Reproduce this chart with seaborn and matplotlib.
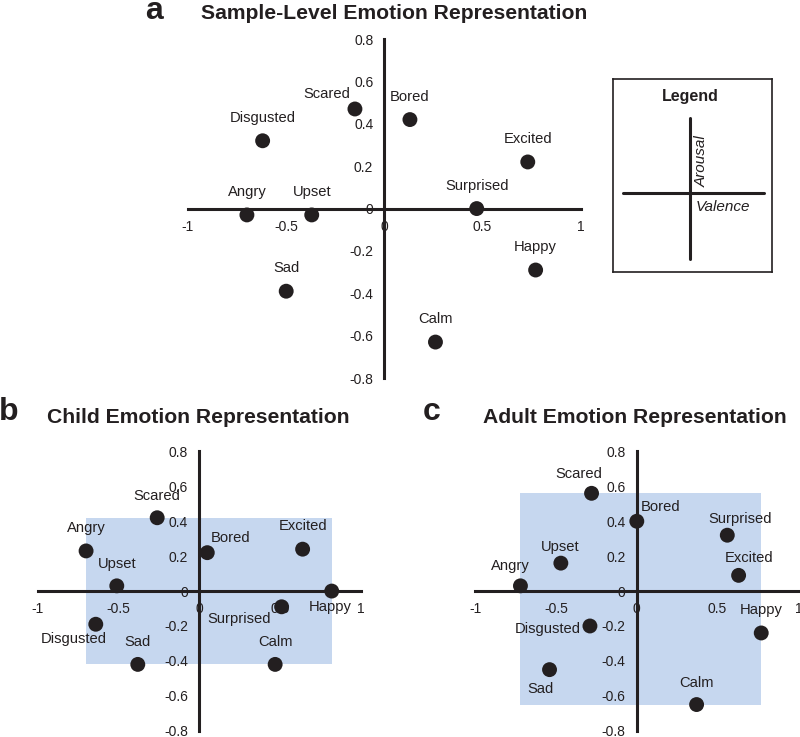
import numpy as np
import pandas as pd
import seaborn as sns
import matplotlib.pyplot as plt
from matplotlib.patches import Rectangle

# Emotion coordinates (valence, arousal)
emotions = ["Scared", "Bored", "Disgusted", "Excited", "Angry",
            "Upset", "Surprised", "Happy", "Sad", "Calm"]

sample_valence = [-0.15, 0.13, -0.62, 0.73, -0.70, -0.37, 0.47, 0.77, -0.50, 0.26]
sample_arousal = [0.47, 0.42, 0.32, 0.22, -0.03, -0.03, 0.00, -0.29, -0.39, -0.63]

child_valence = [-0.26, 0.05, -0.64, 0.64, -0.70, -0.51, 0.51, 0.82, -0.38, 0.47]
child_arousal = [0.42, 0.22, -0.19, 0.24, 0.23, 0.03, -0.09, 0.00, -0.42, -0.42]

adult_valence = [-0.28, 0.00, -0.29, 0.63, -0.72, -0.47, 0.56, 0.77, -0.54, 0.37]
adult_arousal = [0.56, 0.40, -0.20, 0.09, 0.03, 0.16, 0.32, -0.24, -0.45, -0.65]

axis_ticks_x = [-1, -0.5, 0, 0.5, 1]
axis_ticks_y = [-0.8, -0.6, -0.4, -0.2, 0, 0.2, 0.4, 0.6, 0.8]

# label offsets in pixels (dx, dy) relative to each dot
offsets_a = {e: (0, 23) for e in emotions}
offsets_a["Scared"] = (-28, 15)

offsets_b = {"Scared": (0, 22), "Angry": (0, 23), "Bored": (23, 15), "Excited": (0, 23),
             "Upset": (0, 22), "Happy": (-2, -16), "Surprised": (-43, -12),
             "Disgusted": (-22, -15), "Sad": (0, 22), "Calm": (0, 22)}

offsets_c = {"Scared": (-13, 19), "Bored": (24, 14), "Surprised": (13, 16), "Upset": (-1, 16),
             "Excited": (10, 17), "Angry": (-10, 20), "Disgusted": (-42, -3), "Happy": (0, 23),
             "Sad": (-9, -19), "Calm": (0, 22)}

dark = "#231f20"
blue = "#c6d7ef"

sns.set_style("white")
plt.rcParams['font.family'] = ['Liberation Sans', 'DejaVu Sans']

fig = plt.figure(figsize=(8, 7.37), dpi=100)


def draw_panel(ax, valence, arousal, offsets, box=False):
    df = pd.DataFrame({"emotion": emotions, "valence": valence, "arousal": arousal})
    if box:
        x0, x1 = df["valence"].min(), df["valence"].max()
        y0, y1 = df["arousal"].min(), df["arousal"].max()
        ax.add_patch(Rectangle((x0, y0), x1 - x0, y1 - y0, facecolor=blue,
                               edgecolor="none", zorder=0))
    sns.scatterplot(data=df, x="valence", y="arousal", ax=ax, s=115,
                    color=dark, edgecolor="none", zorder=5, legend=False)
    for _, r in df.iterrows():
        dx, dy = offsets[r["emotion"]]
        ax.annotate(r["emotion"], (r["valence"], r["arousal"]), xytext=(dx, dy),
                    textcoords="offset pixels", ha="center", va="center",
                    fontsize=10.6, color=dark, zorder=6)
    ax.set_xlim(-1, 1)
    ax.set_ylim(-0.8, 0.8)
    ax.set_xticks(axis_ticks_x)
    ax.set_xticklabels(["-1", "-0.5", "0", "0.5", "1"])
    ax.set_yticks(axis_ticks_y)
    ax.set_yticklabels([("%g" % t) for t in axis_ticks_y])
    for side in ["top", "right"]:
        ax.spines[side].set_visible(False)
    for side in ["left", "bottom"]:
        ax.spines[side].set_position("zero")
        ax.spines[side].set_linewidth(2.2)
        ax.spines[side].set_color(dark)
    ax.tick_params(direction="out", length=3, width=2, color=dark,
                   labelsize=10, labelcolor=dark, pad=5)
    ax.set_xlabel("")
    ax.set_ylabel("")
    ax.patch.set_alpha(0)


ax_a = fig.add_axes([0.235, 0.487, 0.491, 0.460])
draw_panel(ax_a, sample_valence, sample_arousal, offsets_a)

ax_b = fig.add_axes([0.047, 0.0085, 0.404, 0.379])
draw_panel(ax_b, child_valence, child_arousal, offsets_b, box=True)

ax_c = fig.add_axes([0.594, 0.0085, 0.404, 0.379])
draw_panel(ax_c, adult_valence, adult_arousal, offsets_c, box=True)

# Legend box
ax_l = fig.add_axes([0.766, 0.6305, 0.199, 0.262])
ax_l.set_xlim(0, 1)
ax_l.set_ylim(0, 1)
ax_l.set_xticks([])
ax_l.set_yticks([])
for s in ax_l.spines.values():
    s.set_visible(True)
    s.set_linewidth(1.2)
    s.set_color(dark)
ax_l.axvline(0.482, 0.069, 0.798, color=dark, lw=2.2)
ax_l.axhline(0.409, 0.063, 0.947, color=dark, lw=2.2)
ax_l.text(0.49, 0.908, "Legend", ha="center", va="center", fontsize=11.5,
          fontweight="bold", color=dark)
ax_l.text(0.56, 0.443, "Arousal", ha="center", va="bottom", rotation=90,
          fontsize=11, style="italic", color=dark)
ax_l.text(0.518, 0.338, "Valence", ha="left", va="center",
          fontsize=11, style="italic", color=dark)

# Titles and panel letters
fig.text(0.4925, 0.982, "Sample-Level Emotion Representation", ha="center", va="center",
         fontsize=15.2, fontweight="bold", color=dark)
fig.text(0.2475, 0.434, "Child Emotion Representation", ha="center", va="center",
         fontsize=15.2, fontweight="bold", color=dark)
fig.text(0.794, 0.434, "Adult Emotion Representation", ha="center", va="center",
         fontsize=15.2, fontweight="bold", color=dark)
fig.text(0.1925, 0.985, "a", ha="center", va="center", fontsize=23, fontweight="bold", color=dark)
fig.text(0.011, 0.441, "b", ha="center", va="center", fontsize=23, fontweight="bold", color=dark)
fig.text(0.539, 0.441, "c", ha="center", va="center", fontsize=23, fontweight="bold", color=dark)

fig.savefig("out.png", dpi=100)
